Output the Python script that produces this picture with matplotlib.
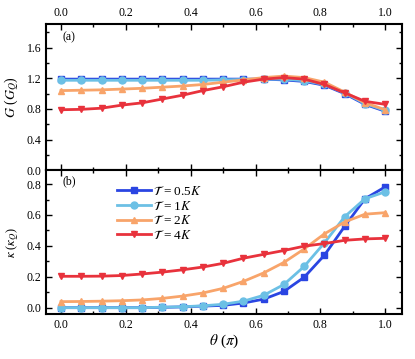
import matplotlib
matplotlib.use("Agg")
import matplotlib.pyplot as plt
import numpy as np
from matplotlib.ticker import MultipleLocator

plt.rcParams["font.family"] = ["Liberation Serif", "DejaVu Serif"]
plt.rcParams["mathtext.fontset"] = "stix"

theta = np.arange(17) / 16

# panel (a): conductance G (G_Q)
G_05 = [1.19, 1.19, 1.19, 1.19, 1.19, 1.19, 1.19, 1.19, 1.19, 1.19, 1.19, 1.18, 1.16, 1.11, 1.00, 0.86, 0.77]
G_1 = [1.175, 1.175, 1.175, 1.175, 1.175, 1.175, 1.175, 1.175, 1.18, 1.185, 1.19, 1.19, 1.17, 1.12, 1.01, 0.87, 0.78]
G_2 = [1.04, 1.045, 1.05, 1.06, 1.07, 1.085, 1.10, 1.12, 1.15, 1.18, 1.21, 1.23, 1.21, 1.15, 1.02, 0.88, 0.79]
G_4 = [0.79, 0.795, 0.81, 0.85, 0.88, 0.93, 0.98, 1.04, 1.09, 1.15, 1.19, 1.21, 1.19, 1.12, 1.01, 0.90, 0.86]

# panel (b): thermal conductance kappa (kappa_Q)
K_05 = [0, 0, 0, 0, 0, 0.002, 0.005, 0.01, 0.015, 0.03, 0.055, 0.105, 0.197, 0.34, 0.527, 0.705, 0.782]
K_1 = [0, 0, 0, 0, 0, 0.003, 0.006, 0.012, 0.022, 0.042, 0.08, 0.15, 0.267, 0.42, 0.589, 0.705, 0.75]
K_2 = [0.039, 0.04, 0.042, 0.045, 0.05, 0.06, 0.075, 0.095, 0.125, 0.17, 0.225, 0.293, 0.38, 0.478, 0.555, 0.605, 0.615]
K_4 = [0.203, 0.203, 0.204, 0.208, 0.218, 0.23, 0.245, 0.263, 0.287, 0.32, 0.345, 0.37, 0.398, 0.415, 0.436, 0.445, 0.449]

labels = [r"$\mathcal{T}$ = 0.5$K$", r"$\mathcal{T}$ = 1$K$",
          r"$\mathcal{T}$ = 2$K$", r"$\mathcal{T}$ = 4$K$"]
colors = ["#2a45e2", "#6cc0e5", "#f8a46a", "#e8323c"]
markers = ["s", "o", "^", "v"]

fig = plt.figure(figsize=(4.15, 3.59), dpi=100)
ax1 = fig.add_axes([0.111, 0.526, 0.858, 0.407])
ax2 = fig.add_axes([0.111, 0.1245, 0.858, 0.4015])

for ys, c, m, lab in zip([G_05, G_1, G_2, G_4], colors, markers, labels):
    ax1.plot(theta, ys, color=c, marker=m, ms=5, lw=2, label=lab)
for ys, c, m, lab in zip([K_05, K_1, K_2, K_4], colors, markers, labels):
    ax2.plot(theta, ys, color=c, marker=m, ms=5, lw=2, label=lab)

for ax in (ax1, ax2):
    ax.set_xlim(-0.046, 1.052)
    ax.xaxis.set_major_locator(MultipleLocator(0.2))
    ax.xaxis.set_minor_locator(MultipleLocator(0.1))
    ax.tick_params(which="both", direction="in", top=True, right=True,
                   labelsize=8.5, width=1)
    ax.tick_params(which="major", length=4)
    ax.tick_params(which="minor", length=2.5)
    for s in ax.spines.values():
        s.set_linewidth(1.5)

ax1.set_ylim(0, 1.91)
ax1.yaxis.set_major_locator(MultipleLocator(0.4))
ax1.yaxis.set_minor_locator(MultipleLocator(0.2))
ax1.tick_params(labeltop=True, labelbottom=False)
ax1.set_ylabel(r"$G$ ($G_Q$)", fontsize=10, labelpad=4)
ax1.text(0.005, 1.7, "(a)", fontsize=8.5)

ax2.set_ylim(-0.043, 0.89)
ax2.yaxis.set_major_locator(MultipleLocator(0.2))
ax2.yaxis.set_minor_locator(MultipleLocator(0.1))
ax2.set_ylabel(r"$\kappa$ ($\kappa_Q$)", fontsize=9, labelpad=4)
ax2.set_xlabel(r"$\theta$ ($\pi$)", fontsize=11, labelpad=1)
ax2.text(0.005, 0.8, "(b)", fontsize=8.5)
ax2.legend(loc="upper left", bbox_to_anchor=(0.17, 0.97), frameon=False,
           fontsize=9.5, handlelength=2.6, handletextpad=0.1, labelspacing=0.12,
           borderaxespad=0.4)

fig.savefig("out.png", dpi=100)
